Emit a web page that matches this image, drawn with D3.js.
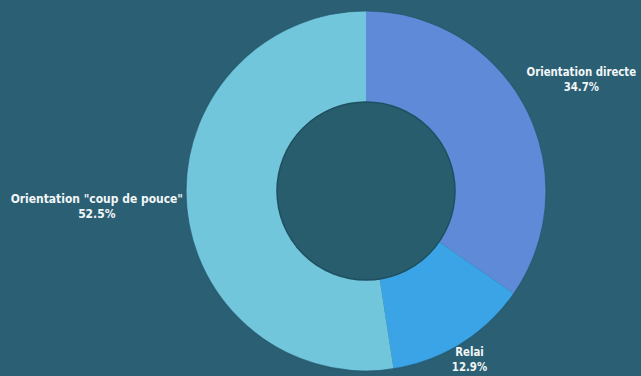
<!DOCTYPE html>
<html>
<head>
<meta charset="utf-8">
<script src="https://cdn.jsdelivr.net/npm/d3@7"></script>
<style>
  html, body { margin: 0; padding: 0; background: #2b5f74; }
  svg { display: block; }
  .lbl { font-family: "DejaVu Sans Condensed", "Liberation Sans Narrow", "Liberation Sans", sans-serif; font-weight: bold; fill: #f2f6f7; }
</style>
</head>
<body>
<svg id="chart" width="641" height="376"></svg>
<script>
// Répartition des orientations (%)
const categories = ["Orientation directe", "Relai", "Orientation \"coup de pouce\""];
const values = [34.7, 12.9, 52.5];
const colors = ["#5e8ad8", "#3aa4e6", "#72c6dc"];

// Layout
const W = 641, H = 376;
const cx = 366, cy = 191;
const outerR = 180, innerR = 89;
const labelR = [243, 199, 270];
const labelShift = [[0, 0], [-2, -2], [0, -7]];
const squeeze = [0.87, 0.87, 0.92];

const svg = d3.select("#chart");
svg.append("rect").attr("width", W).attr("height", H).attr("fill", "#2b5f74");

const g = svg.append("g").attr("transform", `translate(${cx},${cy})`);

const pie = d3.pie().sort(null).value(d => d.v);
const data = categories.map((c, i) => ({ c, v: values[i], col: colors[i] }));
const arcs = pie(data);

const arc = d3.arc().innerRadius(innerR).outerRadius(outerR);

g.selectAll("path.slice")
  .data(arcs)
  .enter().append("path")
  .attr("class", "slice")
  .attr("d", arc)
  .attr("fill", d => d.data.col)
  .attr("stroke", "none");

// thin shaded rims
g.append("circle").attr("r", outerR).attr("fill", "none")
  .attr("stroke", "#24566a").attr("stroke-width", 1.2).attr("opacity", 0.7);
g.append("circle").attr("r", innerR).attr("fill", "#275d6d")
  .attr("stroke", "#1f5060").attr("stroke-width", 1.5);

// labels
const fmt = v => v.toFixed(1) + "%";
arcs.forEach((d, i) => {
  const a = (d.startAngle + d.endAngle) / 2;
  const x = Math.sin(a) * labelR[i] + labelShift[i][0];
  const y = -Math.cos(a) * labelR[i] + labelShift[i][1];
  const t = g.append("g")
    .attr("transform", `translate(${x},${y}) scale(${squeeze[i]},1)`)
    .append("text").attr("class", "lbl")
    .attr("text-anchor", "middle")
    .style("font-size", "13px");
  t.append("tspan").attr("x", 0).attr("dy", "-0.15em").text(d.data.c);
  t.append("tspan").attr("x", 0).attr("dy", "1.15em").text(fmt(d.data.v));
});
</script>
</body>
</html>
